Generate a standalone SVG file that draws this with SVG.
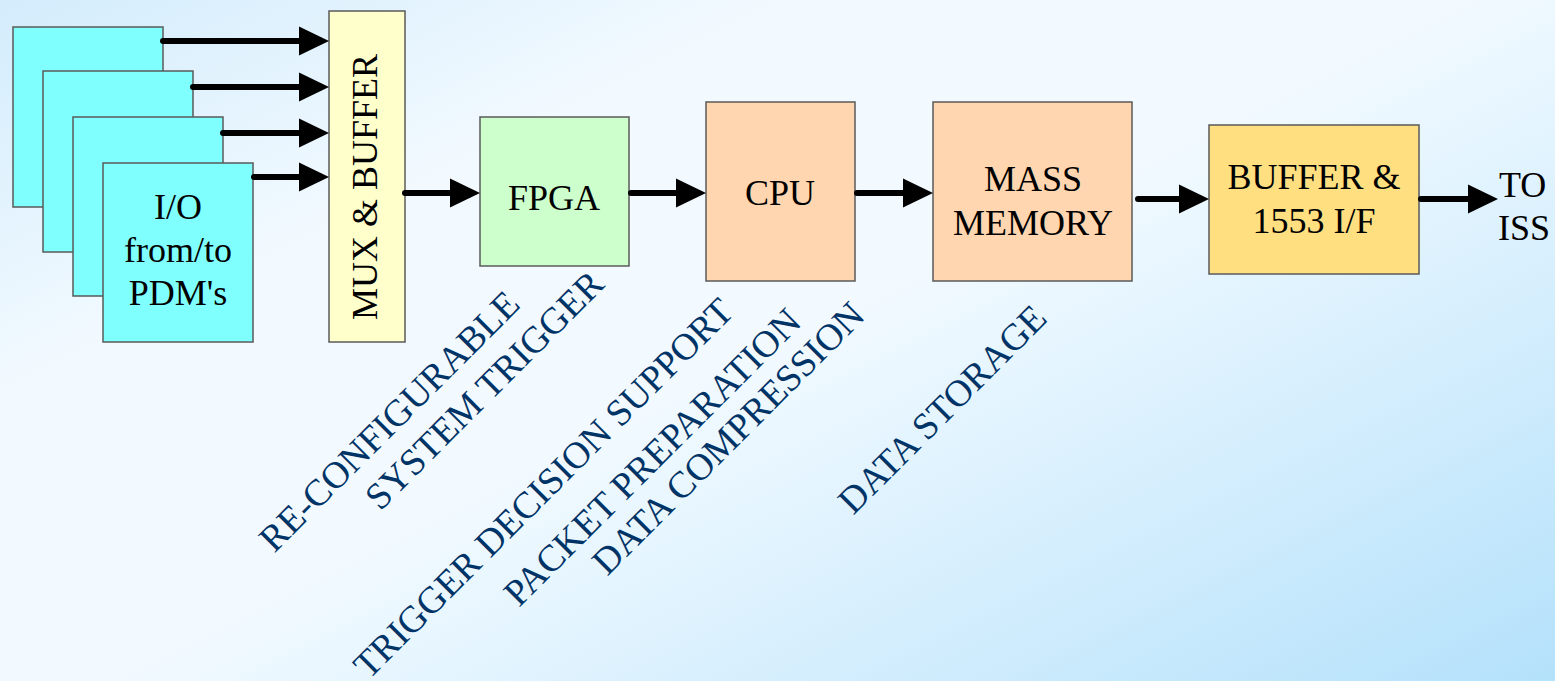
<svg xmlns="http://www.w3.org/2000/svg" width="1555" height="681" viewBox="0 0 1555 681">
  <defs>
    <linearGradient id="bg" gradientUnits="userSpaceOnUse" x1="0" y1="0" x2="583" y2="1166">
      <stop offset="0" stop-color="#d3ecfc"/>
      <stop offset="0.28" stop-color="#f3faff"/>
      <stop offset="0.5" stop-color="#f2faff"/>
      <stop offset="1" stop-color="#b4e1fb"/>
    </linearGradient>
    <marker id="head" markerUnits="userSpaceOnUse" markerWidth="30" markerHeight="29" refX="0" refY="14.5" orient="auto" overflow="visible">
      <path d="M0,0 L30,14.5 L0,29 Z" fill="#000"/>
    </marker>
    <style>
      .box { stroke: #5a5a5a; stroke-width: 1.5; }
      .io { fill: #80ffff; }
      .mux { fill: #ffffcc; }
      .fpga { fill: #ccffcc; }
      .proc { fill: #ffd6af; }
      .out { fill: #ffdf80; }
      text { font-family: "Liberation Serif", "Times New Roman", "DejaVu Serif", serif; }
      .lbl { font-size: 36px; fill: #000; text-anchor: middle; }
      .start { text-anchor: start; }
      .note { font-size: 37.5px; fill: #003366; text-anchor: middle; }
      .wire { fill: none; stroke: #000; stroke-width: 6; stroke-linecap: round; marker-end: url(#head); }
    </style>
  </defs>

  <!-- background -->
  <rect x="0" y="0" width="1555" height="681" fill="url(#bg)"/>

  <!-- stacked I/O cards, back to front -->
  <g id="io-card-1"><rect class="box io" x="13" y="27" width="150" height="180"/></g>
  <g id="io-card-2"><rect class="box io" x="43" y="71" width="150" height="181"/></g>
  <g id="io-card-3"><rect class="box io" x="73" y="117" width="150" height="179"/></g>
  <g id="io-card-4">
    <rect class="box io" x="103" y="163" width="150" height="179"/>
    <text class="lbl" x="178" y="219">I/O</text>
    <text class="lbl" x="178" y="262">from/to</text>
    <text class="lbl" x="178" y="305">PDM's</text>
  </g>

  <g id="mux-buffer">
    <rect class="box mux" x="329" y="11" width="76" height="331"/>
    <text class="lbl" transform="translate(377,187) rotate(-90)">MUX &amp; BUFFER</text>
  </g>

  <g id="fpga">
    <rect class="box fpga" x="480" y="117" width="149" height="149"/>
    <text class="lbl" x="554" y="210">FPGA</text>
  </g>

  <g id="cpu">
    <rect class="box proc" x="706" y="102" width="149" height="179"/>
    <text class="lbl" x="780" y="205">CPU</text>
  </g>

  <g id="mass-memory">
    <rect class="box proc" x="933" y="102" width="199" height="179"/>
    <text class="lbl" x="1033" y="191">MASS</text>
    <text class="lbl" x="1033" y="235">MEMORY</text>
  </g>

  <g id="buffer-1553">
    <rect class="box out" x="1209" y="125" width="210" height="149"/>
    <text class="lbl" x="1314" y="189">BUFFER &amp;</text>
    <text class="lbl" x="1314" y="233">1553 I/F</text>
  </g>

  <g id="to-iss">
    <text class="lbl start" x="1499" y="197">TO</text>
    <text class="lbl start" x="1498" y="240">ISS</text>
  </g>

  <!-- connectors: each line stops at the arrowhead base -->
  <g id="connectors">
    <path class="wire" d="M163,41 H299"/>
    <path class="wire" d="M193,87 H299"/>
    <path class="wire" d="M223,133 H299"/>
    <path class="wire" d="M254,177 H299"/>
    <path class="wire" d="M405,193 H450"/>
    <path class="wire" d="M631,193 H676"/>
    <path class="wire" d="M857,193 H903"/>
    <path class="wire" d="M1138,199 H1179"/>
    <path class="wire" d="M1421,199 H1468"/>
  </g>

  <!-- function notes under the blocks -->
  <g id="notes">
    <text class="note" transform="translate(398,430) rotate(-45)">RE-CONFIGURABLE</text>
    <text class="note" transform="translate(493,399) rotate(-45)">SYSTEM TRIGGER</text>
    <text class="note" transform="translate(552,497) rotate(-45)">TRIGGER DECISION SUPPORT</text>
    <text class="note" transform="translate(661,466) rotate(-45)">PACKET PREPARATION</text>
    <text class="note" transform="translate(737,447) rotate(-45)">DATA COMPRESSION</text>
    <text class="note" transform="translate(951,418) rotate(-45)">DATA STORAGE</text>
  </g>
</svg>
